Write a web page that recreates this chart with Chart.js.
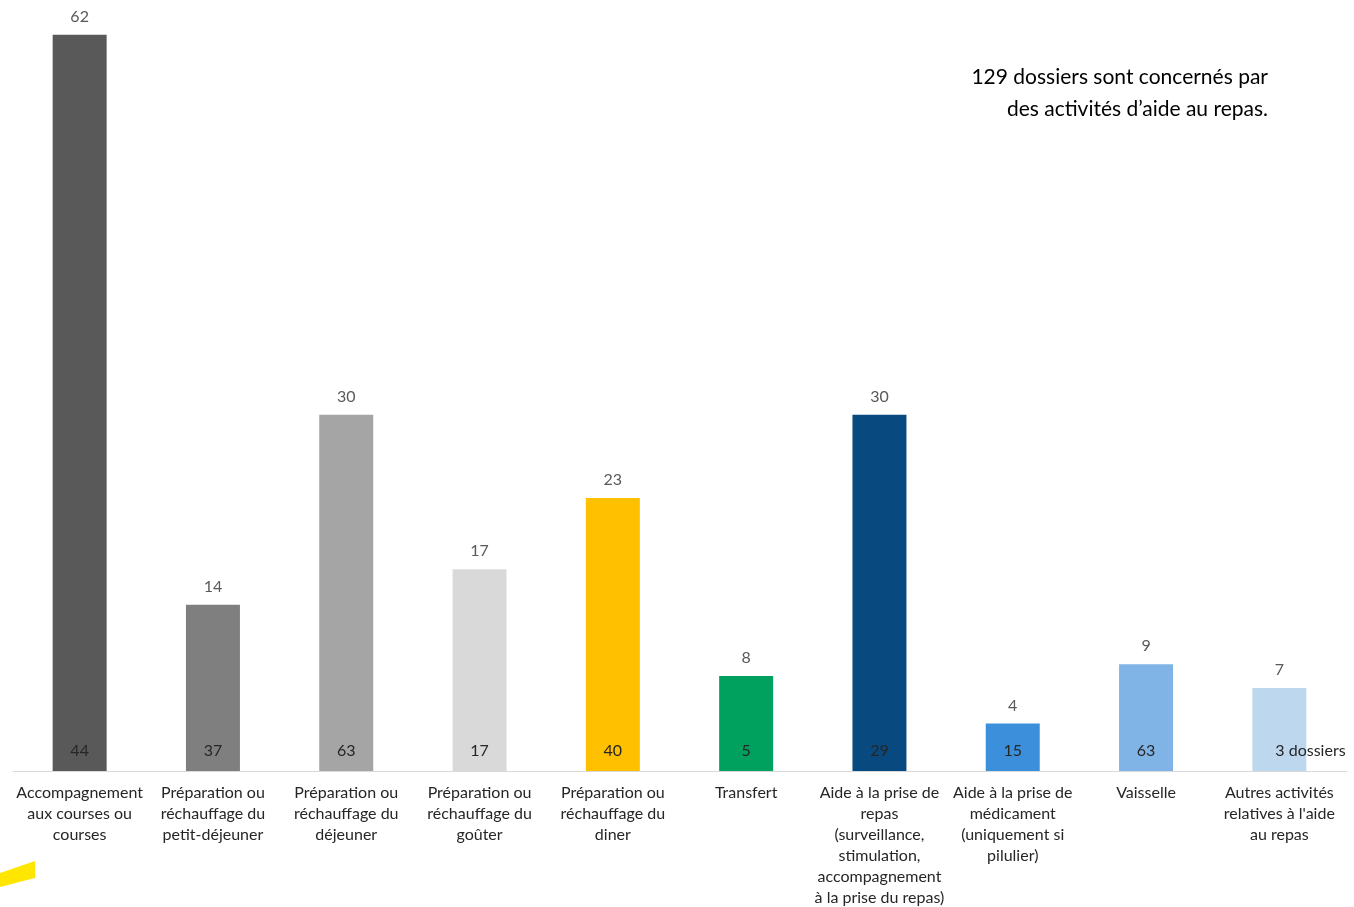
<!DOCTYPE html>
<html lang="fr">
<head>
<meta charset="utf-8">
<script src="https://cdn.jsdelivr.net/npm/chart.js@4"></script>
<style>
  html, body { margin: 0; padding: 0; background: #fff; }
  #wrap { width: 1354px; height: 907px; position: relative; }
</style>
</head>
<body>
<div id="wrap"><canvas id="bar-chart"></canvas></div>
<script>
// activités d'aide au repas
const categories = [
  ["Accompagnement", "aux courses ou", "courses"],
  ["Préparation ou", "réchauffage du", "petit-déjeuner"],
  ["Préparation ou", "réchauffage du", "déjeuner"],
  ["Préparation ou", "réchauffage du", "goûter"],
  ["Préparation ou", "réchauffage du", "diner"],
  ["Transfert"],
  ["Aide à la prise de", "repas", "(surveillance,", "stimulation,", "accompagnement", "à la prise du repas)"],
  ["Aide à la prise de", "médicament", "(uniquement si", "pilulier)"],
  ["Vaisselle"],
  ["Autres activités", "relatives à l'aide", "au repas"]
];
const valeurs = [62, 14, 30, 17, 23, 8, 30, 4, 9, 7];
const dossiers = [44, 37, 63, 17, 40, 5, 29, 15, 63, 3];
const couleurs = ["#595959", "#7f7f7f", "#a5a5a5", "#d9d9d9", "#ffc000",
                  "#00a05e", "#084a80", "#3b8fdb", "#80b4e6", "#bdd7ee"];
const titre = ["129 dossiers sont concernés par", "des activités d’aide au repas."];

const FONT = "Lato";

// labels above / inside the bars
const labelsPlugin = {
  id: "labels",
  afterDatasetsDraw(chart) {
    const ctx = chart.ctx;
    const meta = chart.getDatasetMeta(0);
    ctx.save();
    ctx.textBaseline = "middle";
    ctx.font = "16px " + FONT;
    meta.data.forEach((bar, i) => {
      ctx.fillStyle = "#595959";
      ctx.textAlign = "center";
      ctx.fillText(valeurs[i], bar.x, bar.y - 18);
      ctx.fillStyle = "#262626";
      if (i === dossiers.length - 1) {
        ctx.textAlign = "left";
        ctx.fillText(dossiers[i] + " dossiers", bar.x - 4, bar.base - 20);
      } else {
        ctx.fillText(dossiers[i], bar.x, bar.base - 20);
      }
    });
    ctx.restore();
  },
  afterDraw(chart) {
    const ctx = chart.ctx;
    ctx.save();
    // titre en haut à droite
    ctx.fillStyle = "#000";
    ctx.font = "21px " + FONT;
    ctx.textAlign = "right";
    ctx.textBaseline = "middle";
    ctx.fillText(titre[0], 1268, 77);
    ctx.fillText(titre[1], 1268, 109);
    // bout de forme jaune en bas à gauche
    ctx.fillStyle = "#ffe600";
    ctx.beginPath();
    ctx.moveTo(0, 873);
    ctx.lineTo(35, 861);
    ctx.lineTo(35, 878);
    ctx.lineTo(0, 887);
    ctx.closePath();
    ctx.fill();
    ctx.restore();
  }
};

new Chart(document.getElementById("bar-chart"), {
  type: "bar",
  data: {
    labels: categories,
    datasets: [{
      label: "Dossiers",
      data: valeurs,
      backgroundColor: couleurs,
      borderWidth: 0,
      categoryPercentage: 1,
      barPercentage: 0.405
    }]
  },
  options: {
    responsive: true,
    maintainAspectRatio: false,
    animation: false,
    layout: { padding: { top: 11, left: 13, right: 8, bottom: 0 } },
    plugins: {
      legend: { display: false },
      title: { display: false },
      tooltip: { enabled: false }
    },
    scales: {
      x: {
        grid: { display: false, drawTicks: false },
        border: { display: true, color: "#d9d9d9", width: 1 },
        afterFit(scale) { scale.height = 136; },
        ticks: {
          autoSkip: false,
          maxRotation: 0,
          padding: 11,
          color: "#262626",
          font: { family: FONT, size: 16, lineHeight: "21px" }
        }
      },
      y: {
        display: false,
        min: 0,
        max: 64
      }
    }
  },
  plugins: [labelsPlugin]
});
</script>
</body>
</html>
